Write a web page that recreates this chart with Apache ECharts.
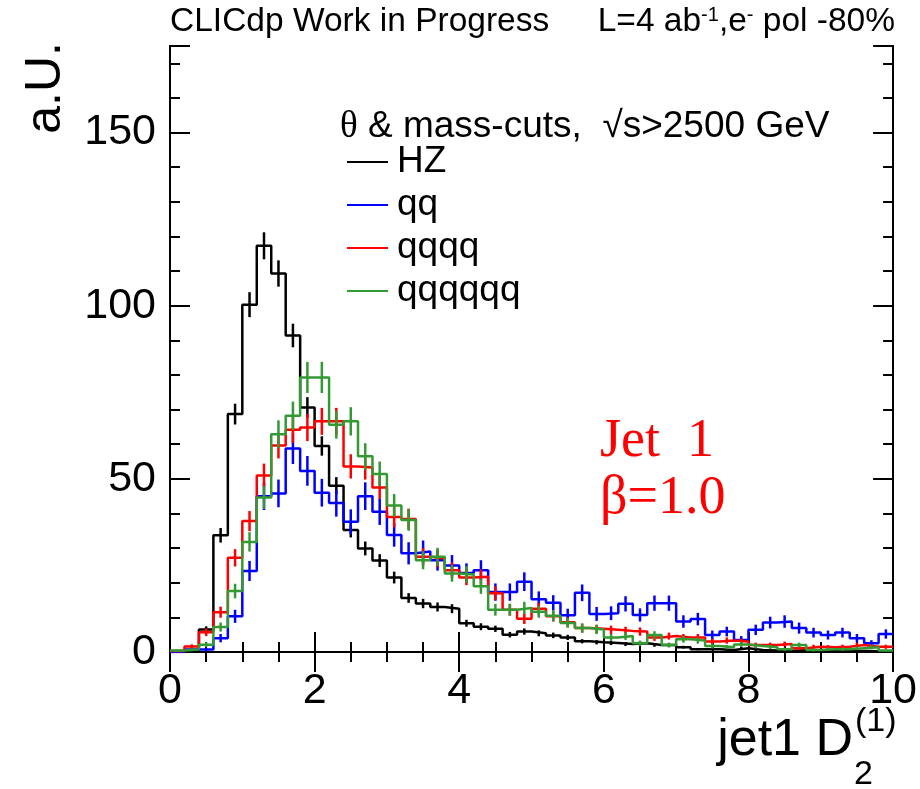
<!DOCTYPE html>
<html><head><meta charset="utf-8">
<script src="https://cdn.jsdelivr.net/npm/echarts@6/dist/echarts.min.js"></script>
<style>html,body{margin:0;padding:0;background:#fff}#c{width:920px;height:789px}</style>
</head><body><div id="c"></div>
<script>
// bin edges of the histogram (50 bins of 0.2)
const binEdges = [0,0.2,0.4,0.6,0.8,1.0,1.2,1.4,1.6,1.8,2.0,2.2,2.4,2.6,2.8,3.0,3.2,3.4,3.6,3.8,4.0,4.2,4.4,4.6,4.8,5.0,5.2,5.4,5.6,5.8,6.0,6.2,6.4,6.6,6.8,7.0,7.2,7.4,7.6,7.8,8.0,8.2,8.4,8.6,8.8,9.0,9.2,9.4,9.6,9.8,10.0];
const seriesNames = ['HZ','qq','qqqq','qqqqqq'];
const hzVals = [0,0.5,6.5,33.7,68.7,100.3,117.3,109.3,91.4,70.6,59.5,48,35.2,29.9,26.4,21.5,15.6,14,13,12.5,8.3,7.3,6.7,5,5.9,5.4,4.8,4.2,3.1,2.8,2.6,2.3,2.5,2,2,1.4,0.8,0.8,0.6,1.1,0.6,0.4,0.3,0.5,0.5,0.3,0.3,0.3,0.2,0.2];
const hzErr = [0,0.25,0.9,2.1,3.0,3.6,3.9,3.8,3.4,3.0,2.8,2.5,2.1,2.0,1.85,1.7,1.4,1.35,1.3,1.3,1.0,1.0,0.9,0.8,0.9,0.85,0.8,0.75,0.6,0.6,0.6,0.55,0.55,0.5,0.5,0.4,0.3,0.3,0.3,0.4,0.3,0.2,0.2,0.25,0.25,0.2,0.2,0.2,0.15,0.15];
const qqVals = [0,0.7,0.7,4,10.3,23.4,45,45.8,58.8,52.3,46,43,37.6,45,40.5,33.8,28.5,29,26.5,25,22.8,23.6,17.3,17.3,20.3,15.2,14.2,10.6,17.1,11,11.2,13.9,10.7,14.1,14.1,8.8,9.5,4.9,5.9,3.5,6.4,8.5,8.8,6.9,5.6,4.9,5.6,4,2.5,5.2];
const qqErr = [0,0.5,0.5,1.2,1.9,2.9,4.0,4.0,4.5,4.3,4.0,3.9,3.6,4.0,3.8,3.4,3.2,3.2,3.0,3.0,2.8,2.9,2.5,2.5,2.7,2.3,2.2,1.9,2.4,2.0,2.0,2.2,1.9,2.2,2.2,1.8,1.8,1.3,1.4,1.1,1.5,1.7,1.8,1.6,1.4,1.3,1.4,1.2,0.9,1.35];
const qqqqVals = [0.3,1.6,5.7,11.5,27.2,37.8,51,59.6,64.2,64.8,66.6,66.6,53.6,53.3,47.5,39,38.4,27.5,27,23.6,21.5,21.7,17,12.2,9.6,12.5,10.3,8.6,6.9,6.7,6.4,6.1,5.9,4.2,4.6,4.2,4.2,3,3.3,3,2,2,2.3,1.1,1.5,1.4,1.5,2,1.5,1.5];
const qqqqErr = [0.25,0.6,1.1,1.6,2.5,2.9,3.4,3.7,3.8,3.9,3.9,3.9,3.5,3.5,3.3,3.0,3.0,2.5,2.5,2.3,2.2,2.2,2.0,1.7,1.5,1.7,1.5,1.4,1.3,1.2,1.2,1.2,1.2,1.0,1.0,1.0,1.0,0.8,0.9,0.8,0.7,0.7,0.7,0.5,0.6,0.6,0.6,0.7,0.6,0.6];
const qqqqqqVals = [0.4,0.7,2.1,7.2,17.6,31.8,44.6,62.9,68.2,79.3,79.3,65.6,66.6,56.5,51.4,42.3,38.1,26.5,27.5,22.7,22.4,19,12.2,12.2,12.7,11.6,10.5,8.4,6.9,6.5,4.2,4.6,2.5,4.9,2,3.7,3.3,1.7,1.4,2.2,1.7,1.4,0.8,2,0.6,0.8,0.8,1.1,1.4,0.4];
const qqqqqqErr = [0.3,0.4,0.7,1.3,2.1,2.8,3.3,4.0,4.1,4.5,4.5,4.0,4.1,3.8,3.6,3.3,3.1,2.6,2.6,2.4,2.4,2.2,1.7,1.7,1.8,1.7,1.6,1.4,1.3,1.3,1.0,1.1,0.8,1.1,0.7,1.0,0.9,0.65,0.6,0.7,0.65,0.6,0.45,0.7,0.4,0.45,0.45,0.5,0.6,0.3];
const xTickLabels = ['0','2','4','6','8','10'];
const yTickLabels = ['0','50','100','150'];

const colors = ['#000000','#0000ff','#ff0000','#339933'];
const allVals = [hzVals, qqVals, qqqqVals, qqqqqqVals];
const allErr = [hzErr, qqErr, qqqqErr, qqqqqqErr];

const FONT = '"Liberation Sans", Arial, Helvetica, sans-serif';
const SERIF = '"Liberation Serif", "Times New Roman", serif';
const LW = 2.5;

const series = [];
seriesNames.forEach((name, s) => {
  const vals = allVals[s];
  const stepData = vals.map((v, i) => [binEdges[i], v]);
  stepData.push([binEdges[binEdges.length - 1], vals[vals.length - 1]]);
  series.push({
    name, type: 'line', step: 'end', data: stepData, symbol: 'none',
    lineStyle: { color: colors[s], width: LW }, itemStyle: { color: colors[s] },
    xAxisIndex: 0, yAxisIndex: 0, z: 3 + s, animation: false
  });
  const errData = vals.map((v, i) => [(binEdges[i] + binEdges[i + 1]) / 2, v, allErr[s][i]]);
  series.push({
    name, type: 'custom', coordinateSystem: 'cartesian2d', data: errData,
    xAxisIndex: 0, yAxisIndex: 0, clip: true, z: 3 + s, animation: false,
    itemStyle: { color: colors[s] },
    encode: { x: 0, y: 1 },
    renderItem: (params, api) => {
      const x = api.value(0), y = api.value(1), e = api.value(2);
      const p1 = api.coord([x, Math.max(0, y - e)]);
      const p2 = api.coord([x, y + e]);
      return { type: 'line', shape: { x1: p1[0], y1: p1[1], x2: p2[0], y2: p2[1] },
               style: { stroke: colors[s], lineWidth: LW } };
    }
  });
});

const axisLine = { show: true, lineStyle: { color: '#000', width: 2 } };
function xAx(pos, labels) {
  return {
    type: 'value', position: pos, min: 0, max: 10, interval: 2,
    axisLine, splitLine: { show: false },
    axisTick: { show: true, inside: true, length: 20, lineStyle: { color: '#000', width: 2 } },
    minorTick: { show: true, splitNumber: 4, length: 10, lineStyle: { color: '#000', width: 2 } },
    minorSplitLine: { show: false },
    axisLabel: labels ? { show: true, fontSize: 43, fontFamily: FONT, color: '#000', margin: 18,
      formatter: (v) => { const i = Math.round(v / 2); return xTickLabels[i] !== undefined && Math.abs(v - i * 2) < 1e-6 ? xTickLabels[i] : ''; } } : { show: false }
  };
}
function yAx(pos, interval, len, labels) {
  return {
    type: 'value', position: pos, min: 0, max: 175, interval,
    axisLine, splitLine: { show: false },
    axisTick: { show: true, inside: true, length: len, lineStyle: { color: '#000', width: 2 } },
    axisLabel: labels ? { show: true, fontSize: 43, fontFamily: FONT, color: '#000', margin: 14,
      formatter: (v) => { const i = Math.round(v / 50); return (Math.abs(v - i * 50) < 1e-6 && yTickLabels[i] !== undefined) ? yTickLabels[i] : ''; } } : { show: false }
  };
}

const option = {
  animation: false,
  backgroundColor: '#fff',
  grid: { left: 170, right: 25, top: 46, bottom: 137, containLabel: false },
  xAxis: [xAx('bottom', true), xAx('top', false)],
  yAxis: [yAx('left', 50, 20, true), yAx('left', 10, 10, false), yAx('right', 50, 20, false), yAx('right', 10, 10, false)],
  legend: {
    data: seriesNames, orient: 'vertical', left: 347, top: 143,
    icon: 'rect', itemWidth: 41, itemHeight: 2, itemGap: 5, padding: 0,
    textStyle: { fontSize: 37, lineHeight: 38, fontFamily: FONT, color: '#000', padding: [0, 0, 0, 4] },
    selectedMode: false
  },
  series,
  graphic: [
    { type: 'text', left: 170, top: 5, style: { text: 'CLICdp Work in Progress', font: '33.5px ' + FONT, fill: '#000' } },
    { type: 'text', right: 25, top: 5, style: {
        text: 'L=4 ab{sup|-1},e{sup|-} pol -80%', font: '33.5px ' + FONT, fill: '#000',
        rich: { sup: { fontSize: 20, fontFamily: FONT, verticalAlign: 'top', padding: [0, 0, 14, 0] } } } },
    { type: 'text', x: 340, y: 127, style: {
        text: '{th|θ} & mass-cuts,  √s>2500 GeV', font: '37px ' + FONT, fill: '#000', verticalAlign: 'middle',
        rich: { th: { fontSize: 37, fontFamily: SERIF } } } },
    { type: 'text', x: 46, y: 42, rotation: Math.PI / 2, style: {
        text: 'a.U.', font: '50px ' + FONT, fill: '#000', align: 'right', verticalAlign: 'middle' } },
    { type: 'text', x: 853, y: 741, style: { text: 'jet1 D', font: '52px ' + FONT, fill: '#000', align: 'right', verticalAlign: 'middle' } },
    { type: 'text', x: 855, y: 722, style: { text: '(1)', font: '34px ' + FONT, fill: '#000', align: 'left', verticalAlign: 'middle' } },
    { type: 'text', x: 854, y: 775, style: { text: '2', font: '34px ' + FONT, fill: '#000', align: 'left', verticalAlign: 'middle' } },
    { type: 'text', left: 600, top: 415, style: { text: 'Jet  1', font: '54px ' + SERIF, fill: '#ff0000' } },
    { type: 'text', left: 600, top: 472, style: { text: 'β=1.0', font: '54px ' + SERIF, fill: '#ff0000' } }
  ]
};
const chart = echarts.init(document.getElementById('c'), null, { renderer: 'canvas' });
chart.setOption(option);
</script></body></html>
